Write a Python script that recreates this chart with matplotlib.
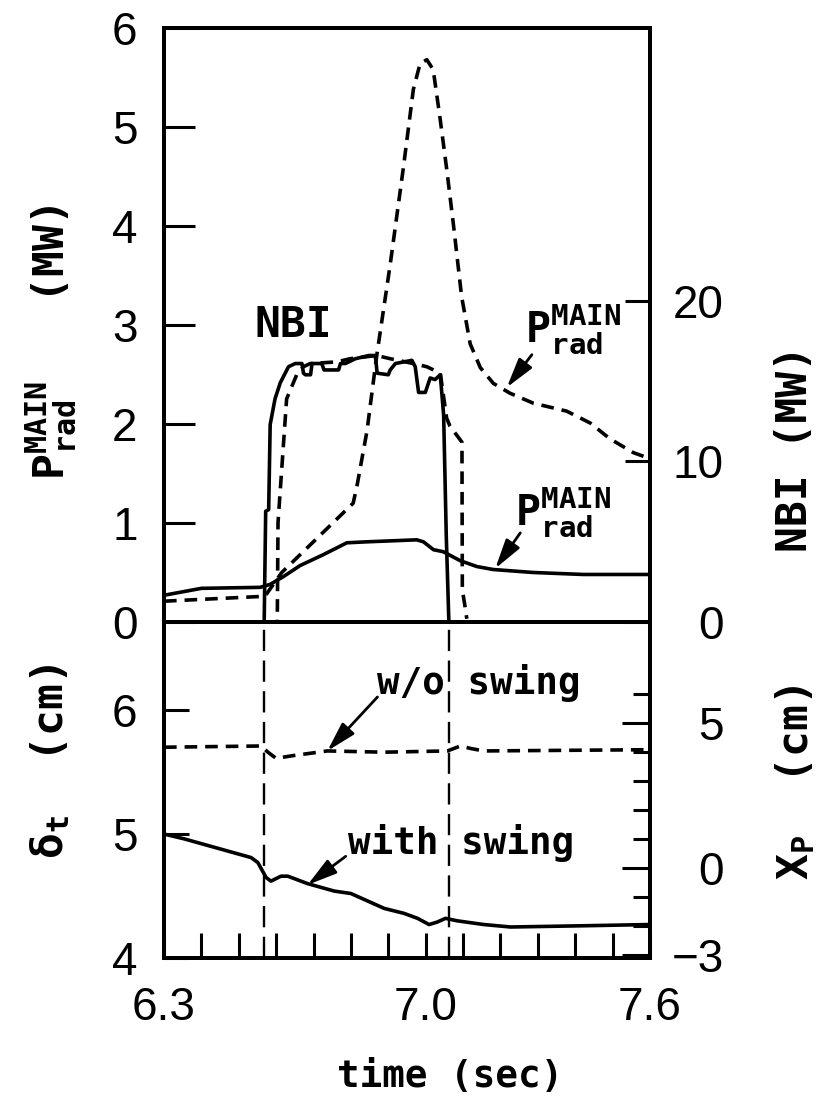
import matplotlib
matplotlib.use("Agg")
import matplotlib.pyplot as plt
from matplotlib.ticker import FixedLocator, NullFormatter, NullLocator

# ---- data ----
# radiated power, solid trace (with swing), MW
t_prad_with = [6.30, 6.40, 6.557, 6.584, 6.62, 6.664, 6.726, 6.789, 6.843, 6.976,
               6.994, 7.021, 7.047, 7.092, 7.137, 7.181, 7.288, 7.422, 7.60]
prad_with = [0.27, 0.34, 0.35, 0.38, 0.46, 0.57, 0.68, 0.80, 0.81, 0.83,
             0.81, 0.73, 0.71, 0.62, 0.56, 0.53, 0.50, 0.48, 0.48]

# radiated power, dashed trace (w/o swing), MW
t_prad_wo = [6.30, 6.57, 6.615, 6.806, 6.816, 6.843, 6.869, 6.905, 6.94, 6.967,
             6.985, 7.003, 7.02, 7.038, 7.056, 7.074, 7.096, 7.119, 7.146, 7.181,
             7.226, 7.288, 7.377, 7.44, 7.493, 7.556, 7.60]
prad_wo = [0.21, 0.26, 0.50, 1.20, 1.37, 1.93, 2.69, 3.61, 4.58, 5.38,
           5.64, 5.68, 5.58, 5.10, 4.58, 4.02, 3.29, 2.81, 2.57, 2.41,
           2.31, 2.21, 2.13, 2.01, 1.85, 1.71, 1.65]

# NBI power, solid (with swing), MW
t_nbi_with = [6.30, 6.568, 6.572, 6.580, 6.584, 6.597, 6.611, 6.633, 6.651, 6.669,
              6.673, 6.678, 6.692, 6.696, 6.705, 6.722, 6.728, 6.731, 6.767, 6.772,
              6.785, 6.812, 6.848, 6.865, 6.868, 6.870, 6.900, 6.905, 6.919, 6.963,
              6.972, 6.981, 6.999, 7.012, 7.025, 7.039, 7.048, 7.055, 7.062]
nbi_with = [0.0, 0.0, 6.9, 7.0, 12.3, 13.9, 14.9, 15.9, 16.1, 16.1,
            15.5, 15.4, 15.4, 16.1, 16.1, 16.1, 15.7, 15.7, 15.7, 16.1,
            16.1, 16.4, 16.6, 16.6, 16.0, 15.5, 15.4, 15.7, 16.1, 16.3,
            15.9, 14.3, 14.3, 15.2, 15.1, 15.4, 12.9, 5.4, 0.0]

# NBI power, dashed (w/o swing), MW
t_nbi_wo = [6.30, 6.603, 6.605, 6.628, 6.655, 6.673, 6.691, 6.762, 6.798, 6.869,
            6.905, 6.967, 7.003, 7.039, 7.056, 7.065, 7.097, 7.098, 7.105, 7.11]
nbi_wo = [0.0, 0.0, 6.2, 13.9, 15.4, 15.9, 16.1, 16.2, 16.4, 16.6,
          16.4, 16.1, 15.9, 15.5, 12.7, 12.2, 11.2, 2.0, 1.0, 0.2]

# delta_t, w/o swing (dashed), cm
t_dt_wo = [6.30, 6.56, 6.578, 6.60, 6.64, 6.737, 6.889, 7.058, 7.093, 7.12, 7.155, 7.60]
dt_wo = [5.70, 5.71, 5.66, 5.61, 5.63, 5.67, 5.66, 5.67, 5.71, 5.69, 5.67, 5.68]

# delta_t, with swing (solid), cm
t_dt_with = [6.30, 6.355, 6.533, 6.551, 6.573, 6.586, 6.613, 6.631, 6.684, 6.755,
             6.80, 6.889, 6.942, 6.978, 7.009, 7.031, 7.053, 7.084, 7.155, 7.227,
             7.422, 7.60]
dt_with = [5.00, 4.96, 4.81, 4.77, 4.65, 4.62, 4.66, 4.66, 4.60, 4.54,
           4.52, 4.40, 4.36, 4.32, 4.27, 4.29, 4.32, 4.30, 4.27, 4.25,
           4.26, 4.27]

nbi_edges = [6.568, 7.062]

x_ticks = [6.3, 7.0, 7.6]
x_minor = [6.3 + 0.1 * i for i in range(14)]

# ---- style ----
MONO = "DejaVu Sans Mono"
NUM = ["Liberation Sans", "DejaVu Sans"]
LW = 2.6
DASH = (0, (3.5, 2.2))
SPINE = 2.8

plt.rcParams["font.family"] = NUM
plt.rcParams["mathtext.default"] = "regular"

fig = plt.figure(figsize=(8.3, 11), dpi=100)
W, H = 830.0, 1100.0
x0, x1 = 164, 650
ax_top = fig.add_axes([x0 / W, 1 - 622 / H, (x1 - x0) / W, (622 - 28) / H])
ax_bot = fig.add_axes([x0 / W, 1 - 958 / H, (x1 - x0) / W, (958 - 622) / H])
ax_nbi = ax_top.twinx()
ax_xp = ax_bot.twinx()

for ax in (ax_top, ax_bot, ax_nbi, ax_xp):
    for sp in ax.spines.values():
        sp.set_linewidth(SPINE)
    ax.set_xlim(6.3, 7.6)
    ax.patch.set_visible(False)

# top panel
ax_top.plot(t_prad_with, prad_with, color="k", lw=LW)
ax_top.plot(t_prad_wo, prad_wo, color="k", lw=LW, ls=DASH)
ax_nbi.plot(t_nbi_with, nbi_with, color="k", lw=LW)
ax_nbi.plot(t_nbi_wo, nbi_wo, color="k", lw=LW, ls=DASH)
ax_top.set_ylim(0, 6)
ax_nbi.set_ylim(0, 37.0)

ax_top.xaxis.set_major_locator(NullLocator())
ax_top.set_yticks(range(7))
ax_top.tick_params(axis="y", direction="in", length=22, width=2.2, labelsize=33, pad=19)
ax_nbi.set_yticks([0, 10, 20])
ax_nbi.tick_params(axis="y", direction="in", length=18, width=2.2, labelsize=33, pad=53)
for lab in ax_nbi.get_yticklabels():
    lab.set_horizontalalignment("right")

txt = dict(fontfamily=MONO, fontweight="bold", ha="left", va="baseline")
ax_top.text(6.543, 2.88, "NBI", fontsize=31, **txt)
plabel = r"$\mathregular{P_{rad}^{MAIN}}$"
ax_top.text(7.266, 2.82, plabel, fontsize=30, **txt)
ax_top.text(7.239, 0.97, plabel, fontsize=30, **txt)
arrow = dict(arrowstyle="-|>,head_length=0.9,head_width=0.25", color="k", lw=2.0,
             shrinkA=0, shrinkB=0, mutation_scale=20)
ax_top.annotate("", xy=(7.217, 2.37), xytext=(7.284, 2.70), arrowprops=arrow)
ax_top.annotate("", xy=(7.186, 0.54), xytext=(7.253, 0.90), arrowprops=arrow)

# bottom panel
ax_bot.plot(t_dt_with, dt_with, color="k", lw=LW)
ax_bot.plot(t_dt_wo, dt_wo, color="k", lw=LW, ls=DASH)
for te in nbi_edges:
    ax_bot.axvline(te, color="k", lw=1.7, ls=(0, (9, 4)))
ax_bot.set_ylim(4, 6.71)
ax_xp.set_ylim(-3.1, 8.49)

ax_bot.set_yticks([4, 5, 6])
ax_bot.tick_params(axis="y", direction="in", length=18, width=2.2, labelsize=33, pad=19)
ax_xp.yaxis.set_major_locator(FixedLocator([-3, 0, 5]))
ax_xp.yaxis.set_minor_locator(FixedLocator(list(range(-3, 7))))
ax_xp.yaxis.set_minor_formatter(NullFormatter())
ax_xp.set_yticklabels(["\u22123", "0", "5"])
ax_xp.tick_params(axis="y", which="major", direction="in", length=20, width=2.2,
                  labelsize=33, pad=53)
ax_xp.tick_params(axis="y", which="minor", direction="in", length=12, width=2.2)
for lab in ax_xp.get_yticklabels():
    lab.set_horizontalalignment("right")

ax_bot.set_xticks(x_ticks)
ax_bot.set_xticklabels(["6.3", "7.0", "7.6"])
ax_bot.xaxis.set_minor_locator(FixedLocator(x_minor))
ax_bot.tick_params(axis="x", which="both", direction="in", length=18, width=2.2,
                   labelsize=33, pad=20)

ax_bot.text(6.871, 6.13, "w/o swing", fontsize=27, **txt)
ax_bot.text(6.791, 4.84, "with swing", fontsize=27, **txt)
ax_bot.annotate("", xy=(6.737, 5.67), xytext=(6.871, 6.105), arrowprops=arrow)
ax_bot.annotate("", xy=(6.684, 4.59), xytext=(6.786, 4.82), arrowprops=arrow)


# axis labels, placed by pixel centre
def side_label(x, y, s, size=31):
    fig.text(x / W, 1 - y / H, s, rotation=90, ha="center", va="center",
             fontfamily=MONO, fontweight="bold", fontsize=size)


side_label(52, 342, r"$\mathregular{P_{rad}^{MAIN}}$   (MW)")
side_label(795, 449, "NBI (MW)")
side_label(50, 762, r"$\mathregular{\delta_t}$  (cm)")
side_label(795, 783, r"$\mathregular{X_P}$  (cm)")
fig.text(450 / W, 1 - 1077 / H, "time (sec)", ha="center", va="center",
         fontfamily=MONO, fontweight="bold", fontsize=27)

fig.savefig("out.png", dpi=100)
